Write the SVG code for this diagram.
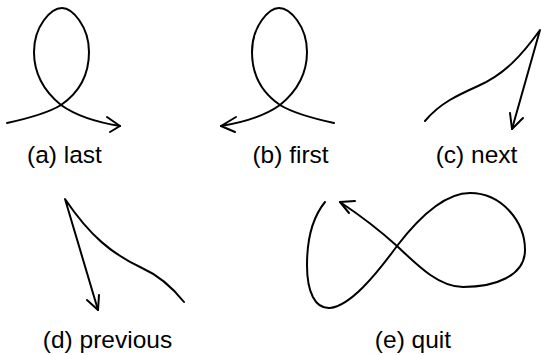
<svg xmlns="http://www.w3.org/2000/svg" width="541" height="355" viewBox="0 0 541 355">
<style>
.c{fill:none;stroke:#000;stroke-width:2;stroke-linecap:round;stroke-linejoin:round}
.t{font-family:"Liberation Sans",Arial,sans-serif;font-size:24.5px;fill:#000;text-anchor:middle}
</style>
<rect width="541" height="355" fill="#fff"/>
<g id="a">
<path class="c" d="M7,123 C30,118 48,113 61,105 C80,92 89,75 89,52 C89,26 72,8 62,8 C51,8 34,26 34,52 C34,75 45,92 61,105 C75,115 95,122 120,126"/>
<path class="c" d="M107,117 L120,126 L110,132"/>
<text class="t" x="64.5" y="163">(a) last</text>
</g>
<g id="b">
<path class="c" d="M334,123 C311,118 293,113 280,105 C261,92 252,75 252,52 C252,26 269,8 279,8 C290,8 307,26 307,52 C307,75 296,92 280,105 C266,115 246,122 221,126"/>
<path class="c" d="M236,117 L221,126 L235,132"/>
<text class="t" x="290.5" y="163">(b) first</text>
</g>
<g id="c">
<path class="c" d="M425,121 C440,103 458,95 478,86 C505,74 522,55 540,30 L512,129"/>
<path class="c" d="M510,113 L512,129 L523,118"/>
<text class="t" x="476.5" y="163">(c) next</text>
</g>
<g id="d">
<path class="c" d="M184,302 C172,287 160,276 142,268 C112,254 90,236 65,199 L98,310"/>
<path class="c" d="M87,300 L98,310 L99,295"/>
<text class="t" x="107.5" y="348">(d) previous</text>
</g>
<g id="e">
<path class="c" d="M325,202 C312,218 307,242 307,265 C307,292 315,309 330,308 C350,306 375,276 397,246 C420,216 445,193 470,193 C502,193 525,222 525,250 C525,276 495,287 463,287 C440,287 420,268 397,246 C375,226 358,214 340,202"/>
<path class="c" d="M355,201 L340,202 L349,213"/>
<text class="t" x="413" y="348">(e) quit</text>
</g>
</svg>
